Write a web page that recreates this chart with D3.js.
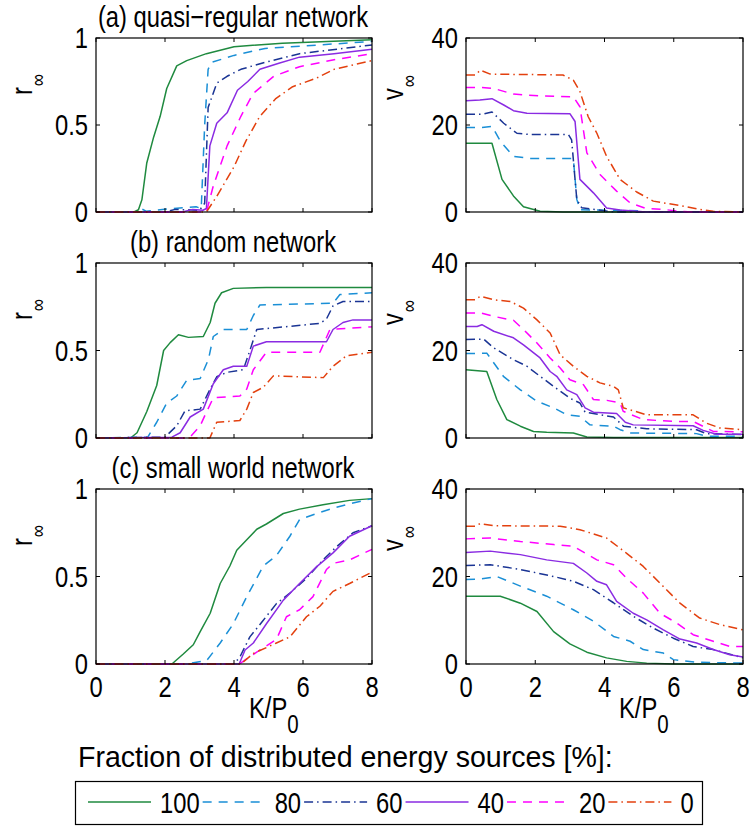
<!DOCTYPE html>
<html><head><meta charset="utf-8">
<script src="https://cdn.jsdelivr.net/npm/d3@7"></script>
<style>
body{margin:0;background:#fff}
text{font-family:"Liberation Sans",Arial,sans-serif;fill:#000}
</style>
</head><body>
<svg id="c" width="751" height="826"></svg>
<script>
// ---------- data ----------
const seriesNames = ["100","80","60","40","20","0"];
const seriesColors = ["#1f8a3f","#1a8fd6","#1a3494","#8a2be2","#ff00ff","#e3400e"];
const seriesDash = ["", "9,7", "9,4,1.5,4", "", "9,7", "9,4,1.5,4"];
const xTicks = [0,2,4,6,8];
const rTicks = [0,0.5,1];
const vTicks = [0,20,40];
const rTickLabels = ["0","0.5","1"];
const vTickLabels = ["0","20","40"];
const titles = ["(a) quasi\u2212regular network","(b) random network","(c) small world network"];
const legendTitle = "Fraction of distributed energy sources [%]:";

// (a) quasi-regular: r_inf
const a_r_100 = [[0,0],[1.1,0],[1.23,0.013],[1.33,0.07],[1.47,0.28],[1.67,0.43],[1.86,0.55],[2.05,0.71],[2.34,0.84],[2.63,0.87],[3.2,0.91],[4,0.95],[5.4,0.97],[8,0.99]];
const a_r_80 = [[0,0],[1.2,0],[1.3,0.02],[1.45,0.005],[2.2,0.02],[2.9,0.03],[3.05,0.02],[3.15,0.5],[3.25,0.82],[3.35,0.86],[4,0.9],[4.9,0.94],[8,0.98]];
const a_r_60 = [[0,0],[2.0,0],[2.3,0.015],[3.0,0.01],[3.15,0.05],[3.25,0.6],[3.5,0.74],[3.8,0.78],[4.2,0.82],[4.9,0.86],[5.9,0.91],[8,0.96]];
const a_r_40 = [[0,0],[2.5,0],[2.8,0.015],[3.1,0.01],[3.2,0.02],[3.3,0.38],[3.5,0.51],[3.8,0.57],[4.1,0.7],[4.4,0.75],[4.75,0.82],[5.3,0.855],[5.9,0.89],[6.9,0.91],[8,0.935]];
const a_r_20 = [[0,0],[3.2,0],[3.4,0.15],[3.8,0.38],[4.2,0.55],[4.55,0.68],[5.15,0.78],[5.9,0.835],[6.9,0.875],[8,0.91]];
const a_r_0 = [[0,0],[3.2,0],[3.5,0.09],[4,0.26],[4.35,0.41],[4.75,0.55],[5.2,0.65],[5.7,0.72],[6.4,0.77],[6.9,0.82],[8,0.87]];
// (a) v_inf
const a_v_100 = [[0,15.8],[0.75,15.8],[1.04,7.5],[1.37,3.7],[1.66,1.2],[2.14,0.15],[2.8,0],[8,0]];
const a_v_80 = [[0,19.4],[0.4,19.4],[0.75,19.7],[1.0,16.2],[1.37,12.8],[1.85,12.3],[3.1,12.3],[3.2,2.9],[3.3,0.5],[5,0.3],[5.2,0],[8,0]];
const a_v_60 = [[0,22.5],[0.5,22.5],[0.75,23],[1.09,20.4],[1.47,18.1],[1.85,17.8],[2.96,17.8],[3.05,16.6],[3.2,2.9],[3.34,1],[3.78,0.5],[4.3,0],[8,0]];
const a_v_40 = [[0,25.6],[0.4,25.75],[0.75,26.05],[1.09,24.6],[1.37,23.3],[1.76,22.7],[3.0,22.6],[3.15,20.8],[3.29,7.5],[3.68,4.4],[4.06,0.9],[4.45,0.45],[5.2,0],[8,0]];
const a_v_20 = [[0,28.6],[0.4,28.65],[0.8,28.4],[1.37,27.1],[2.14,26.7],[3.1,26.5],[3.29,24.2],[3.49,13.6],[3.87,8.6],[4.35,4.8],[4.74,2.1],[5.2,0.8],[5.7,0.6],[6.18,0.15],[6.6,0],[8,0]];
const a_v_0 = [[0,31.5],[0.27,31.5],[0.41,32.6],[0.7,31.7],[2.8,31.5],[3.1,30.3],[3.29,27.7],[3.53,21.9],[3.78,18.1],[4.06,12.8],[4.45,7.5],[4.93,4.6],[5.41,2.5],[5.79,2.0],[6.18,1.5],[6.75,0.6],[7.14,0.15],[8,0]];

// (b) random: r_inf
const b_r_100 = [[0,0],[1.0,0],[1.19,0.03],[1.47,0.15],[1.76,0.3],[1.96,0.5],[2.15,0.545],[2.39,0.59],[2.68,0.575],[3.11,0.58],[3.31,0.66],[3.45,0.77],[3.64,0.83],[3.98,0.855],[4.94,0.86],[8,0.86]];
const b_r_80 = [[0,0],[1.5,0.005],[1.76,0.09],[2.05,0.2],[2.34,0.24],[2.63,0.33],[3.02,0.34],[3.26,0.45],[3.4,0.58],[3.69,0.62],[4.37,0.62],[4.56,0.7],[4.75,0.76],[6.87,0.77],[7.07,0.82],[8,0.83]];
const b_r_60 = [[0,0],[2.0,0.005],[2.34,0.07],[2.58,0.155],[3.02,0.165],[3.31,0.28],[3.5,0.35],[3.79,0.375],[4.27,0.39],[4.46,0.5],[4.66,0.62],[6.49,0.655],[6.68,0.68],[6.87,0.755],[7.16,0.78],[8,0.78]];
const b_r_40 = [[0,0],[2.2,0.005],[2.44,0.03],[2.73,0.12],[3.11,0.165],[3.4,0.31],[3.69,0.39],[3.98,0.41],[4.37,0.41],[4.56,0.525],[4.94,0.55],[6.68,0.55],[6.87,0.62],[7.16,0.66],[7.45,0.675],[8,0.675]];
const b_r_20 = [[0,0],[2.7,0],[3.02,0.07],[3.16,0.13],[3.4,0.23],[3.79,0.235],[4.17,0.24],[4.37,0.28],[4.56,0.39],[4.94,0.49],[6.49,0.49],[6.78,0.62],[8,0.635]];
const b_r_0 = [[0,0],[3.3,0],[3.5,0.09],[4.17,0.1],[4.37,0.165],[4.56,0.26],[4.85,0.29],[5.14,0.355],[6.59,0.345],[6.87,0.41],[7.26,0.47],[8,0.49]];
// (b) v_inf
const b_v_100 = [[0,15.6],[0.6,15.2],[0.89,8.8],[1.18,4.2],[1.57,2.7],[1.95,1.5],[2.33,1.3],[3.1,1.15],[3.49,0.25],[4.26,0.1],[8,0.1]];
const b_v_80 = [[0,19.3],[0.32,19.3],[0.6,19.4],[1.08,14.1],[1.57,11.0],[2.05,8.4],[2.53,6.9],[2.91,5.3],[3.29,4.95],[3.58,3.0],[4.26,2.7],[4.45,1.9],[4.74,1.15],[6.66,1.0],[6.94,0.4],[8,0.4]];
const b_v_60 = [[0,22.5],[0.51,22.6],[0.8,20.6],[1.37,17.9],[1.76,16.4],[2.14,14.1],[2.53,11.8],[3.0,9.1],[3.29,8.0],[3.44,5.9],[4.26,4.8],[4.55,2.7],[5.22,2.1],[6.66,1.9],[6.94,1.0],[8,0.8]];
const b_v_40 = [[0,25.5],[0.32,25.5],[0.46,25.9],[0.8,24.4],[1.37,22.9],[1.66,21.3],[2.14,18.3],[2.43,15.2],[2.62,14.1],[2.91,11.0],[3.2,9.9],[3.44,6.9],[3.68,5.9],[4.35,5.6],[4.6,3.6],[4.83,3.0],[6.56,2.8],[6.85,1.75],[7.23,0.85],[8,0.85]];
const b_v_20 = [[0,28.6],[0.41,28.6],[0.8,27.8],[1.37,26.9],[1.66,24.8],[2.05,21.7],[2.43,18.3],[2.72,16.0],[3.0,13.3],[3.39,12.2],[3.68,8.8],[4.07,8.6],[4.45,8.0],[4.54,6.1],[5.12,4.2],[5.98,3.8],[6.56,3.8],[7.14,1.5],[8,1.4]];
const b_v_0 = [[0,31.6],[0.27,31.6],[0.41,32.4],[0.8,31.6],[1.28,31.2],[1.66,29.7],[2.05,27.0],[2.43,24.0],[2.72,19.0],[3.1,16.4],[3.49,14.1],[3.87,12.6],[4.26,11.8],[4.4,11.0],[4.54,6.9],[5.22,5.3],[6.56,5.3],[6.94,3.4],[7.33,2.3],[8,1.9]];

// (c) small world: r_inf
const c_r_100 = [[0,0],[2.2,0],[2.53,0.057],[2.82,0.11],[3.02,0.185],[3.31,0.29],[3.6,0.46],[3.88,0.56],[4.08,0.65],[4.37,0.71],[4.66,0.77],[4.94,0.8],[5.43,0.86],[5.9,0.885],[6.58,0.91],[7.35,0.935],[8,0.945]];
const c_r_80 = [[0,0],[2.6,0],[3.21,0.02],[3.6,0.12],[3.98,0.23],[4.37,0.385],[4.85,0.56],[5.23,0.62],[5.62,0.73],[5.9,0.825],[6.39,0.86],[6.87,0.89],[7.45,0.92],[8,0.945]];
const c_r_60 = [[0,0],[4.0,0],[4.17,0.04],[4.46,0.155],[4.85,0.25],[5.23,0.345],[5.62,0.405],[6.1,0.49],[6.58,0.595],[6.97,0.67],[7.45,0.75],[8,0.79]];
const c_r_40 = [[0,0],[4.15,0],[4.32,0.08],[4.56,0.12],[4.94,0.23],[5.43,0.365],[5.9,0.46],[6.39,0.555],[6.87,0.635],[7.35,0.73],[8,0.79]];
const c_r_20 = [[0,0],[4.15,0],[4.75,0.08],[5.23,0.14],[5.52,0.27],[5.9,0.31],[6.29,0.385],[6.68,0.54],[6.87,0.575],[7.35,0.595],[8,0.655]];
const c_r_0 = [[0,0],[4.2,0],[4.56,0.06],[5.23,0.12],[5.62,0.155],[6.1,0.27],[6.49,0.33],[6.87,0.415],[7.35,0.46],[8,0.525]];
// (c) v_inf
const c_v_100 = [[0,15.5],[0.99,15.5],[1.57,13.9],[2.05,12.0],[2.53,7.4],[3.0,4.6],[3.49,2.7],[4.06,1.4],[4.64,0.6],[5.22,0.2],[6,0],[8,0]];
const c_v_80 = [[0,19.3],[0.41,19.4],[0.89,20],[1.57,17.8],[2.33,15.5],[3.1,12.4],[3.68,9.8],[4.26,6.3],[4.74,5.2],[5.12,3.3],[5.7,2.5],[5.99,1.0],[6.66,0.4],[8,0.2]];
const c_v_60 = [[0,22.5],[0.7,22.7],[1.57,21.6],[2.53,20.0],[3.1,18.9],[3.68,17.0],[4.26,14.0],[4.83,10.9],[5.41,8.2],[5.99,5.9],[6.56,4.0],[7.14,3.3],[8,1.4]];
const c_v_40 = [[0,25.5],[0.7,25.8],[1.57,25.0],[2.33,23.8],[3.1,23.0],[3.49,20.8],[3.78,18.9],[4.06,18.1],[4.35,14.3],[4.83,11.6],[5.22,10.1],[5.7,7.8],[6.18,5.7],[6.66,4.8],[7.14,3.3],[7.62,2.1],[8,1.6]];
const c_v_20 = [[0,28.6],[0.7,28.8],[1.57,28.0],[2.53,27.3],[3.1,26.9],[3.78,23.8],[4.26,22.7],[4.64,19.6],[5.12,16.2],[5.6,11.6],[6.08,9.4],[6.56,6.7],[7.14,5.2],[7.62,4.0],[8,4.0]];
const c_v_0 = [[0,31.5],[0.27,31.5],[0.41,32.1],[0.8,31.6],[2.72,31.5],[3.29,30.7],[4.06,28.8],[4.64,25.3],[5.12,22.3],[5.7,17.7],[6.18,13.9],[6.75,10.5],[7.33,9.0],[8,7.8]];

// ---------- layout ----------
const svg = d3.select("#c");
const FS = 29;
const SX = 0.82; // horizontal condensing of the glyphs
const cols = [{l:96, r:372}, {l:466, r:743}];
const rows = [{t:38, b:212}, {t:263, b:438}, {t:489, b:664}];
const panelData = [
  [[a_r_100,a_r_80,a_r_60,a_r_40,a_r_20,a_r_0],[a_v_100,a_v_80,a_v_60,a_v_40,a_v_20,a_v_0]],
  [[b_r_100,b_r_80,b_r_60,b_r_40,b_r_20,b_r_0],[b_v_100,b_v_80,b_v_60,b_v_40,b_v_20,b_v_0]],
  [[c_r_100,c_r_80,c_r_60,c_r_40,c_r_20,c_r_0],[c_v_100,c_v_80,c_v_60,c_v_40,c_v_20,c_v_0]]
];

function txt(parent, x, y, anchor, extra, sx) {
  return parent.append("text")
    .attr("transform", `translate(${x},${y})${extra || ""} scale(${sx || SX},1)`)
    .attr("text-anchor", anchor).attr("font-size", FS);
}

rows.forEach((row, ri) => {
  cols.forEach((col, ci) => {
    const isR = ci === 0;
    const x = d3.scaleLinear().domain([0,8]).range([col.l, col.r]);
    const y = d3.scaleLinear().domain(isR ? [0,1] : [0,40]).range([row.b, row.t]);
    const g = svg.append("g");
    const clipId = `clip${ri}${ci}`;
    svg.append("clipPath").attr("id", clipId).append("rect")
      .attr("x", col.l - 1).attr("y", row.t - 1).attr("width", col.r - col.l + 2).attr("height", row.b - row.t + 2);

    const line = d3.line().x(d => x(d[0])).y(d => y(d[1]));
    const lines = g.append("g").attr("clip-path", `url(#${clipId})`);
    panelData[ri][ci].forEach((s, si) => {
      lines.append("path").datum(s).attr("d", line)
        .attr("fill", "none").attr("stroke", seriesColors[si]).attr("stroke-width", 1.5)
        .attr("stroke-dasharray", seriesDash[si] || null).attr("stroke-linejoin", "round");
    });

    g.append("rect").attr("x", col.l).attr("y", row.t).attr("width", col.r - col.l).attr("height", row.b - row.t)
      .attr("fill", "none").attr("stroke", "#000").attr("stroke-width", 1.2);

    const tl = 4;
    xTicks.forEach(t => {
      g.append("line").attr("x1", x(t)).attr("x2", x(t)).attr("y1", row.b).attr("y2", row.b - tl).attr("stroke", "#000");
      g.append("line").attr("x1", x(t)).attr("x2", x(t)).attr("y1", row.t).attr("y2", row.t + tl).attr("stroke", "#000");
    });
    const yt = isR ? rTicks : vTicks;
    const ytl = isR ? rTickLabels : vTickLabels;
    yt.forEach((t, i) => {
      g.append("line").attr("x1", col.l).attr("x2", col.l + tl).attr("y1", y(t)).attr("y2", y(t)).attr("stroke", "#000");
      g.append("line").attr("x1", col.r).attr("x2", col.r - tl).attr("y1", y(t)).attr("y2", y(t)).attr("stroke", "#000");
      txt(g, col.l - 8, y(t) + 10, "end").text(ytl[i]);
    });

    if (ri === rows.length - 1) {
      xTicks.forEach(t => { txt(g, x(t), row.b + 33, "middle").text(t); });
      const xl = txt(g, col.l + 153, 718, "start");
      xl.append("tspan").text("K/P");
      xl.append("tspan").attr("dy", 15).attr("font-size", 25).text("0");
    }

    const ylx = isR ? 32 : 403;
    const yly = row.t + (isR ? 57 : 62);
    const yl = txt(g, ylx, yly, "start", " rotate(-90)");
    yl.append("tspan").text(isR ? "r" : "v");
    yl.append("tspan").attr("dy", 13).attr("dx", 1).attr("font-size", 21).text("\u221e");

    if (isR) {
      txt(g, (col.l + col.r) / 2 - 1, row.t - 11, "middle").text(titles[ri]);
    }
  });
});

// ---------- legend ----------
txt(svg, 78, 767, "start", "", 0.985).text(legendTitle);
svg.append("rect").attr("x", 75.5).attr("y", 781.5).attr("width", 627).attr("height", 43)
  .attr("fill", "#fff").attr("stroke", "#000").attr("stroke-width", 1.2);
let lx = 88;
seriesNames.forEach((n, i) => {
  svg.append("line").attr("x1", lx).attr("x2", lx + 63).attr("y1", 802).attr("y2", 802)
    .attr("stroke", seriesColors[i]).attr("stroke-width", 1.5)
    .attr("stroke-dasharray", seriesDash[i] || null);
  const t = txt(svg, lx + 72, 813, "start").text(n);
  lx = lx + 72 + t.node().getComputedTextLength() * SX + 3;
});
</script>
</body></html>
